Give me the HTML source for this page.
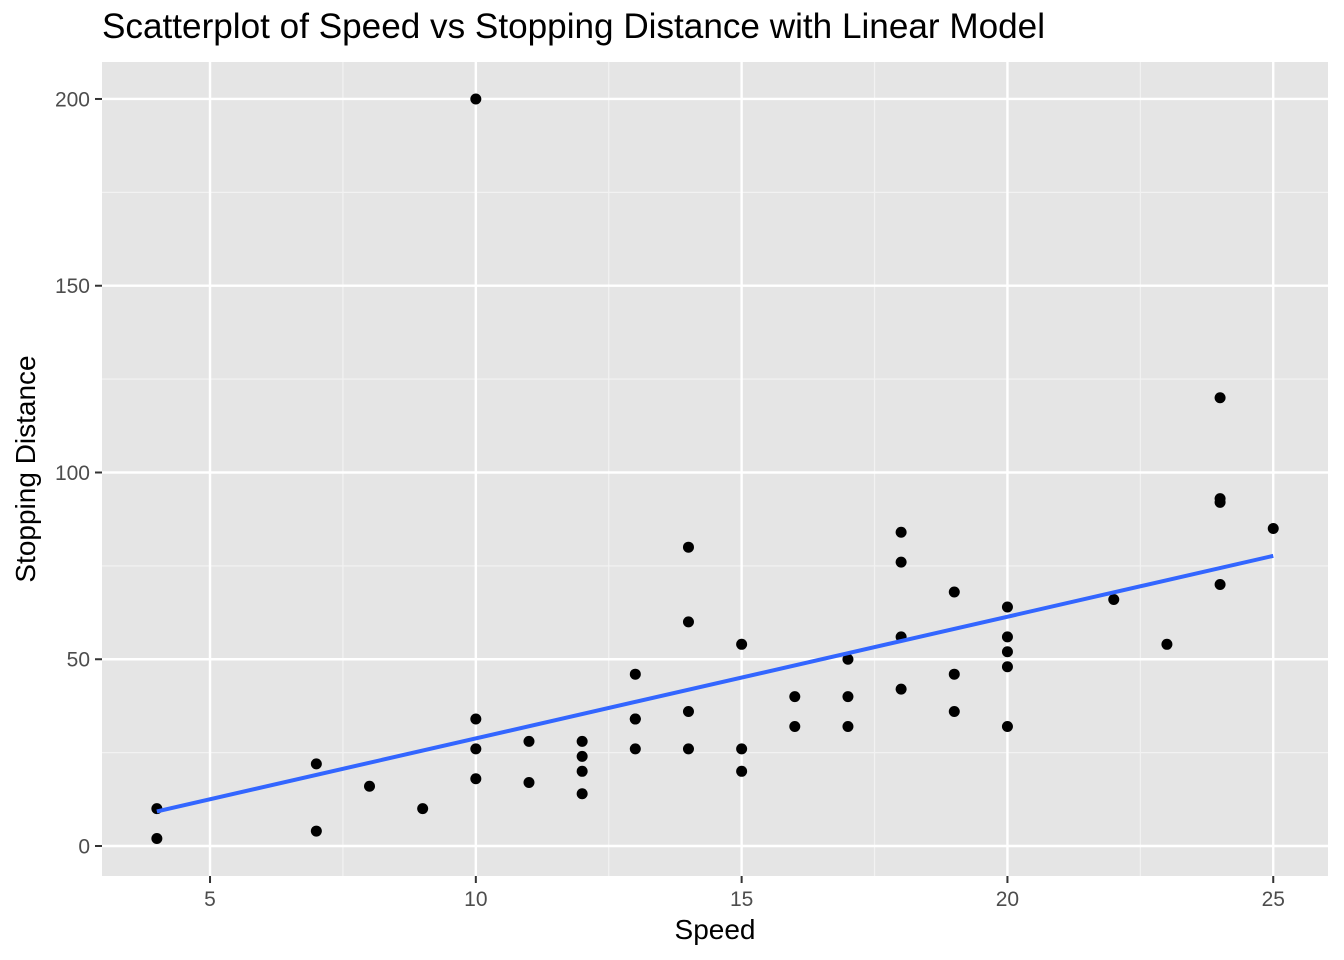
<!DOCTYPE html>
<html><head><meta charset="utf-8"><style>
html,body{margin:0;padding:0;background:#fff;}
svg{display:block;font-family:"Liberation Sans",Arial,sans-serif;}
</style></head><body>
<svg id="chart" width="1344" height="960">
<rect x="102" y="62" width="1226" height="814" fill="#e5e5e5"/>
<text x="102" y="38" font-size="35" textLength="943" lengthAdjust="spacingAndGlyphs" fill="#000">Scatterplot of Speed vs Stopping Distance with Linear Model</text>
<g id="grid"></g><g id="marks"></g><g id="axes"></g>
<text x="715" y="939" font-size="28" text-anchor="middle" fill="#000">Speed</text>
<text transform="translate(35,469) rotate(-90)" font-size="28" text-anchor="middle" fill="#000">Stopping Distance</text>
</svg>
<script>
const speed=[4,4,7,7,8,9,10,10,10,11,11,12,12,12,12,13,13,13,13,14,14,14,14,15,15,15,16,16,17,17,17,18,18,18,18,19,19,19,20,20,20,20,20,22,23,24,24,24,24,25,10];
const dist=[2,10,4,22,16,10,18,26,34,17,28,14,20,24,28,26,34,34,46,26,36,60,80,20,26,54,32,40,32,40,50,42,56,76,84,36,46,68,32,48,52,56,64,66,54,70,92,93,120,85,200];
const xTicks=[5,10,15,20,25];
const yTicks=[0,50,100,150,200];
const xMinor=[7.5,12.5,17.5,22.5];
const yMinor=[25,75,125,175];

const NS="http://www.w3.org/2000/svg";
const X0=102,X1=1328,Y0=62,Y1=876;
const xmin=2.968,xmax=26.03,ymin=-8.03,ymax=209.9;
const sx=v=>X0+(v-xmin)/(xmax-xmin)*(X1-X0);
const sy=v=>Y1-(v-ymin)/(ymax-ymin)*(Y1-Y0);
function mk(tag,attrs,parent){const e=document.createElementNS(NS,tag);for(const k in attrs)e.setAttribute(k,attrs[k]);parent.appendChild(e);return e;}
const grid=document.getElementById('grid'),marks=document.getElementById('marks'),axes=document.getElementById('axes');

xMinor.forEach(v=>{const l=mk('line',{x1:sx(v),x2:sx(v),y1:Y0,y2:Y1,stroke:'#f2f2f2','stroke-width':1.2},grid);

});
yMinor.forEach(v=>{const l=mk('line',{x1:X0,x2:X1,y1:sy(v),y2:sy(v),stroke:'#f2f2f2','stroke-width':1.2},grid);

});
xTicks.forEach(v=>{const l=mk('line',{x1:sx(v),x2:sx(v),y1:Y0,y2:Y1,stroke:'#fff','stroke-width':2.4},grid);


const t=mk('line',{x1:sx(v),x2:sx(v),y1:Y1,y2:Y1+7,stroke:'#333','stroke-width':2},axes);


const tx=mk('text',{x:sx(v),y:906,'font-size':21,'text-anchor':'middle',fill:'#4d4d4d'},axes);tx.textContent=v;

});
yTicks.forEach(v=>{const l=mk('line',{x1:X0,x2:X1,y1:sy(v),y2:sy(v),stroke:'#fff','stroke-width':2.4},grid);


const t=mk('line',{x1:X0-7,x2:X0,y1:sy(v),y2:sy(v),stroke:'#333','stroke-width':2},axes);


const tx=mk('text',{x:X0-12,y:sy(v)+7.5,'font-size':21,'text-anchor':'end',fill:'#4d4d4d'},axes);tx.textContent=v;

});

speed.forEach((s,i)=>{const c=mk('circle',{cx:sx(s),cy:sy(dist[i]),r:5.5,fill:'#000'},marks);

});

const n=speed.length,mx=speed.reduce((a,b)=>a+b)/n,my=dist.reduce((a,b)=>a+b)/n;
let sxy=0,sxx=0;speed.forEach((s,i)=>{sxy+=(s-mx)*(dist[i]-my);sxx+=(s-mx)*(s-mx);});
const b=sxy/sxx,a=my-b*mx;
const lo=Math.min(...speed),hi=Math.max(...speed);
const ln=mk('line',{x1:sx(lo),y1:sy(a+b*lo),x2:sx(hi),y2:sy(a+b*hi),stroke:'#3366ff','stroke-width':4},marks);


</script>
</body></html>
